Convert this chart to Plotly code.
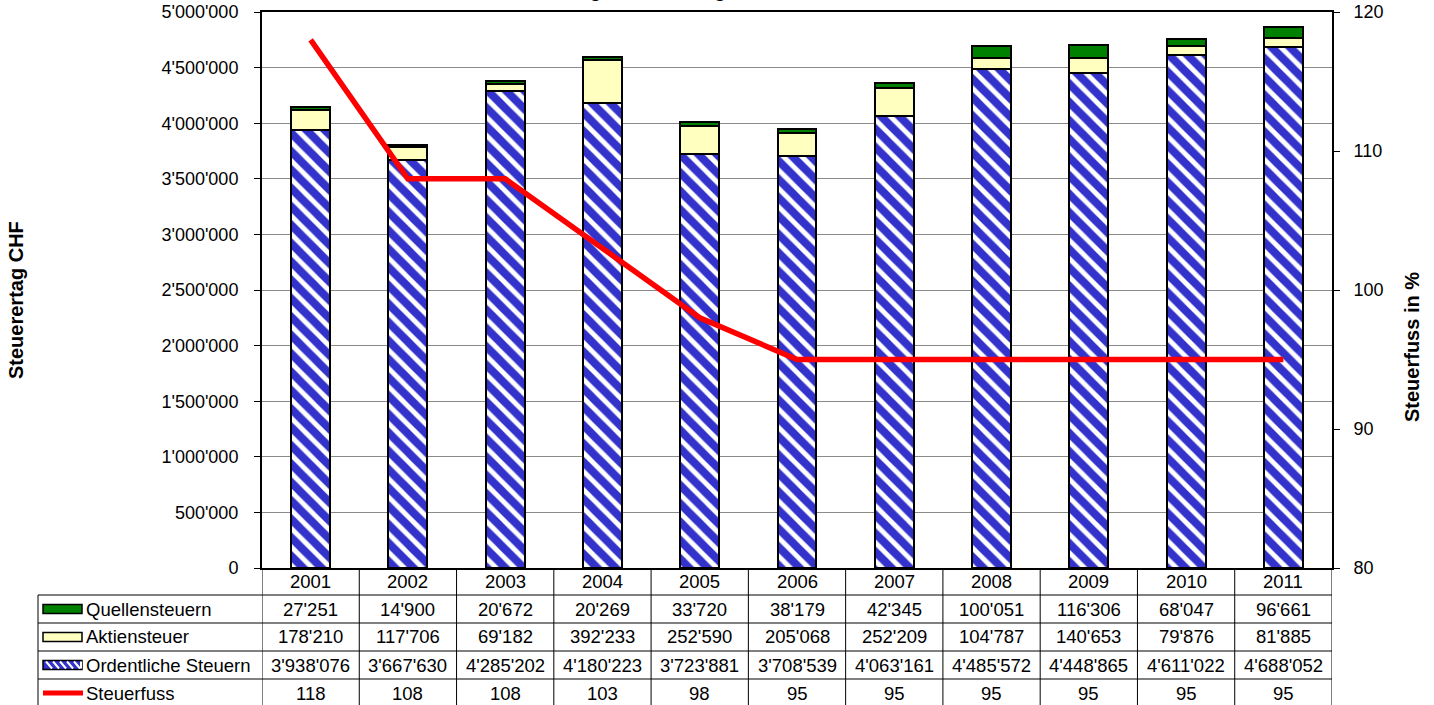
import plotly.graph_objects as go

# ---------------- data ----------------
years = ["2001", "2002", "2003", "2004", "2005", "2006", "2007", "2008", "2009", "2010", "2011"]
quellensteuern = [27251, 14900, 20672, 20269, 33720, 38179, 42345, 100051, 116306, 68047, 96661]
aktiensteuer = [178210, 117706, 69182, 392233, 252590, 205068, 252209, 104787, 140653, 79876, 81885]
ordentliche = [3938076, 3667630, 4285202, 4180223, 3723881, 3708539, 4063161, 4485572, 4448865, 4611022, 4688052]
steuerfuss = [118, 108, 108, 103, 98, 95, 95, 95, 95, 95, 95]

y_ticks = list(range(0, 5000001, 500000))
y2_ticks = [80, 90, 100, 110, 120]

# ---------------- layout constants ----------------
FIG_W, FIG_H = 1434, 705
M_L, M_R, M_T, M_B = 262, 102, 12, 137
PW = FIG_W - M_L - M_R
PH = FIG_H - M_T - M_B
FONT = "Liberation Sans, Arial, Helvetica, sans-serif"
BLUE = "#3333cc"
YELLOW = "#ffffc0"
GREEN = "#008000"
RED = "#ff0000"
TFS = 18.5  # table font size


def px_x(px):
    return (px - M_L) / PW


def px_y(py):
    return (FIG_H - M_B - py) / PH


def fmt(v):
    return f"{v:,}".replace(",", "'")


fig = go.Figure()

bar_line = dict(color="black", width=2)
fig.add_trace(go.Bar(
    x=years, y=ordentliche, name="Ordentliche Steuern",
    marker=dict(color=BLUE, line=bar_line,
                pattern=dict(shape="\\", fgcolor=BLUE, bgcolor="white", size=13,
                             solidity=0.62, fgopacity=1, fillmode="replace")),
    width=0.4,
))
fig.add_trace(go.Bar(
    x=years, y=aktiensteuer, name="Aktiensteuer",
    marker=dict(color=YELLOW, line=bar_line), width=0.4,
))
fig.add_trace(go.Bar(
    x=years, y=quellensteuern, name="Quellensteuern",
    marker=dict(color=GREEN, line=bar_line), width=0.4,
))
fig.add_trace(go.Scatter(
    x=years, y=steuerfuss, name="Steuerfuss", yaxis="y2", mode="lines",
    line=dict(color=RED, width=5.5),
))

# ---------------- table below the chart ----------------
shapes = []
annotations = []

row_bounds = [595, 623, 651, 679, 707]  # pixel y of row separators
table_left = 38
table_bottom = 707
tb = px_y(table_bottom)

for yb in row_bounds:
    shapes.append(dict(type="line", xref="paper", yref="paper",
                       x0=px_x(table_left), x1=1, y0=px_y(yb), y1=px_y(yb),
                       line=dict(color="black", width=1)))
n = len(years)
for i in range(n + 1):
    shapes.append(dict(type="line", xref="x", yref="paper",
                       x0=i - 0.5, x1=i - 0.5, y0=0, y1=tb,
                       line=dict(color="black", width=1)))
shapes.append(dict(type="line", xref="paper", yref="paper",
                   x0=px_x(table_left), x1=px_x(table_left), y0=px_y(595), y1=tb,
                   line=dict(color="black", width=1)))

# year labels (category index positions)
for i, yr in enumerate(years):
    annotations.append(dict(x=i, y=px_y((568 + 595) / 2), xref="x", yref="paper",
                            text=yr, showarrow=False, font=dict(size=TFS, color="black"),
                            xanchor="center", yanchor="middle"))

rows = [
    ("Quellensteuern", quellensteuern, "box", GREEN),
    ("Aktiensteuer", aktiensteuer, "box", YELLOW),
    ("Ordentliche Steuern", ordentliche, "pattern", BLUE),
    ("Steuerfuss", steuerfuss, "line", RED),
]
for r, (label, vals, kind, col) in enumerate(rows):
    top, bot = row_bounds[r], row_bounds[r + 1]
    yc = (top + bot) / 2
    annotations.append(dict(x=px_x(84), y=px_y(yc), xref="paper", yref="paper",
                            text=label, showarrow=False, font=dict(size=TFS, color="black"),
                            xanchor="left", yanchor="middle"))
    for i, v in enumerate(vals):
        annotations.append(dict(x=i, y=px_y(yc), xref="x", yref="paper",
                                text=fmt(v), showarrow=False, font=dict(size=TFS, color="black"),
                                xanchor="center", yanchor="middle"))
    if kind == "line":
        shapes.append(dict(type="line", xref="paper", yref="paper",
                           x0=px_x(43), x1=px_x(83), y0=px_y(yc), y1=px_y(yc),
                           line=dict(color=col, width=5)))
    else:
        shapes.append(dict(type="rect", xref="paper", yref="paper",
                           x0=px_x(43), x1=px_x(82), y0=px_y(yc - 4.5), y1=px_y(yc + 4.5),
                           fillcolor=col, line=dict(color="black", width=1.5)))
        if kind == "pattern":
            for k in range(6):
                sx = 46 + k * 7
                shapes.append(dict(type="line", xref="paper", yref="paper",
                                   x0=px_x(sx), x1=px_x(min(sx + 6, 81)),
                                   y0=px_y(yc - 3.5), y1=px_y(yc + 3.5),
                                   line=dict(color="white", width=2)))

# partially clipped title at the very top (only descenders visible)
annotations.append(dict(x=px_x(680), y=px_y(3.5), xref="paper", yref="paper",
                        text="<b>Entwicklung Steuerertrag und Steuerfuss</b>", showarrow=False,
                        font=dict(size=20, color="black"), xanchor="center", yanchor="bottom"))

fig.update_layout(
    width=FIG_W, height=FIG_H,
    margin=dict(l=M_L, r=M_R, t=M_T, b=M_B, autoexpand=False),
    paper_bgcolor="white", plot_bgcolor="white",
    barmode="stack", bargap=0.6,
    showlegend=False,
    separators=".'",
    font=dict(family=FONT, size=18, color="black"),
    xaxis=dict(type="category", showticklabels=False, ticks="",
               showline=True, linecolor="black", linewidth=2, mirror=True,
               showgrid=False, range=[-0.5, n - 0.5]),
    yaxis=dict(range=[0, 5000000], tickvals=y_ticks, tickformat=",d",
               ticks="outside", ticklen=6, tickcolor="black",
               showline=True, linecolor="black", linewidth=2,
               showgrid=True, gridcolor="#8a8a8a", gridwidth=1,
               tickfont=dict(size=18), ticklabelstandoff=12, zeroline=False),
    yaxis2=dict(range=[80, 120], tickvals=y2_ticks, overlaying="y", side="right",
                ticks="outside", ticklen=6, tickcolor="black",
                showline=True, linecolor="black", linewidth=2, showgrid=False,
                tickfont=dict(size=18), ticklabelstandoff=10, zeroline=False),
    shapes=shapes,
    annotations=annotations + [
        dict(x=px_x(16), y=px_y(300), xref="paper", yref="paper", text="<b>Steuerertag CHF</b>",
             textangle=-90, showarrow=False, font=dict(size=20), xanchor="center", yanchor="middle"),
        dict(x=px_x(1412), y=px_y(347), xref="paper", yref="paper", text="<b>Steuerfuss in %</b>",
             textangle=-90, showarrow=False, font=dict(size=20), xanchor="center", yanchor="middle"),
    ],
)

fig.write_html("out.html", config={"displayModeBar": False},
               post_script="document.body.style.margin='0';document.body.style.overflow='hidden';")
